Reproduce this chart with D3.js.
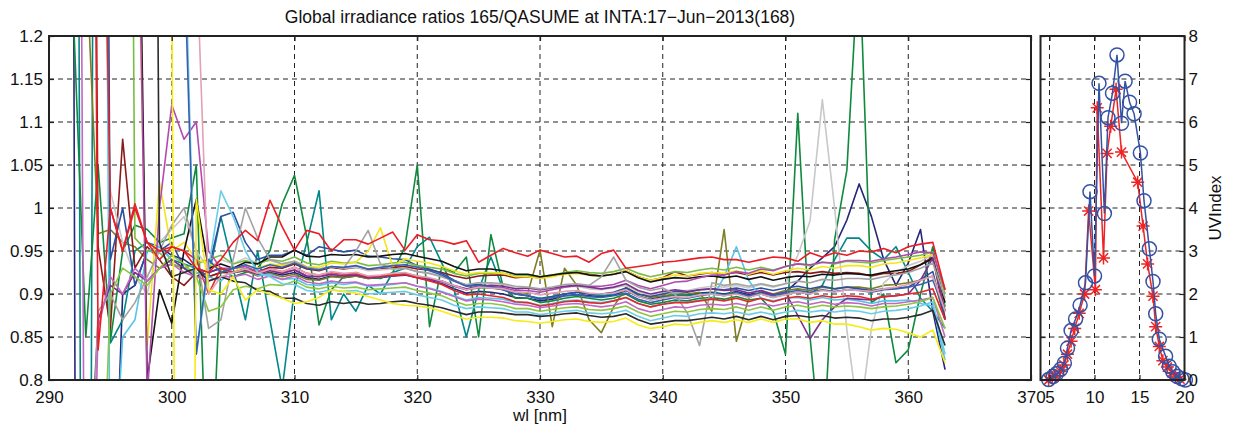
<!DOCTYPE html>
<html>
<head>
<meta charset="utf-8">
<script src="https://cdn.jsdelivr.net/npm/d3@7"></script>
<style>
  body { margin: 0; background: #fff; }
  text { font-family: "Liberation Sans", Arial, sans-serif; fill: #111; }
</style>
</head>
<body>
<div id="chart"></div>
<script>
// wavelength grid (nm)
var wl = [292,293,294,295,296,297,298,299,300,301,302,303,304,
  305,306,307,308,309,310,311,312,313,314,315,316,317,318,319,
  320,321,322,323,324,325,326,327,328,329,330,331,332,333,334,
  335,336,337,338,339,340,341,342,343,344,345,346,347,348,349,
  350,351,352,353,354,355,356,357,358,359,360,361,362,363];

// ratio series, one per instrument scan
var redA = [3,3,.835,1.0,.95,1.0,.96,.95,.955,.95,.93,.925,.94,
  .96,.974,.962,1.009,.978, .951,.974,.97,.95,.963, .963,.958,.965,.972,.951,
  .969,.963,.962,.958,.962, .937,.945,.953,.948,.944, .951,.947,.943,.944,.937,
  .947,.951,.93,.932,.934, .937,.938,.94,.942,.943, .94,.94,.937,.94,.943,
  .942,.938,.948,.943,.948, .945,.95,.949,.953,.948, .955,.958,.96,.905];
var lgA = [3,3,3,3,3,.965,.95,.948,.935,.93,.935,.94,.945,
  .935,.939,.935,.94,.938, .943,.936,.934,.938,.936, .937,.933,.934,.936,.937,
  .933,.931,.929,.924,.921, .924,.924,.924,.921,.922, .92,.922,.925,.927,.925,
  .924,.926,.93,.924,.92, .923,.926,.925,.928,.93, .928,.931,.928,.931,.928,
  .932,.935,.933,.937,.935, .938,.937,.936,.939,.941, .943,.945,.949,.9];
var blkA = [3,3,3,3,3,1.7,.8,.905,.866,.95,1.01,.93,.935,
  .93,.937,.935,.943,.943, .951,.944,.943,.946,.945, .946,.943,.944,.946,.947,
  .944,.941,.938,.932,.927, .929,.929,.927,.923,.923, .92,.922,.924,.925,.922,
  .921,.923,.926,.919,.914, .917,.919,.918,.92,.921, .919,.921,.917,.92,.916,
  .919,.921,.92,.923,.922, .924,.923,.922,.925,.927, .929,.934,.941,.89];
var maroon = [3,3,.955,.86,1.08,.93,.955,.94,.92,.91,.925,.92,.925,
  .925,.929,.926,.931,.93, .935,.929,.927,.931,.929, .931,.928,.929,.931,.932,
  .929,.928,.925,.921,.918, .921,.922,.922,.919,.92, .919,.921,.924,.925,.923,
  .921,.923,.927,.92,.916, .919,.926,.921,.923,.925, .923,.925,.922,.925,.922,
  .925,.926,.924,.926,.924, .925,.924,.921,.924,.924, .926,.934,.943,.872];
var yelA = [3,3,3,3,3,1.5,.84,1.03,.95,.96,.94,.935,.93,
  .925,.934,.93,.935,.933, .938,.932,.931,.936,.935, .937,.95,.977,.932,.941,
  .938,.936,.932,.927,.923, .925,.925,.924,.92,.92, .918,.92,.923,.924,.922,
  .921,.923,.927,.92,.916, .919,.922,.921,.924,.925, .924,.927,.923,.927,.923,
  .927,.93,.928,.932,.93, .933,.933,.931,.935,.936, .939,.942,.946,.88];
var yelB = [3,3,3,3,3,3,3,3,1.25,-1,1.01,.905,.9,
  .92,.893,.905,.9,.895, .889,.891,.896,.905,.903, .901,.897,.893,.889,.887,
  .886,.884,.88,.875,.871, .873,.873,.872,.869,.868, .866,.868,.87,.871,.868,
  .867,.868,.872,.864,.86, .862,.865,.864,.867,.869, .867,.87,.867,.871,.867,
  .871,.871,.867,.869,.865, .865,.862,.858,.86,.859, .855,.85,.858,.82];
var grA = [3,3,1.6,1.02,.96,.92,.9,.96,.975,.99,.95,.93,.94,
  .935,.942,.936,.939,.935, .938,.931,.929,.932,.93, .931,.927,.928,.929,.93,
  .926,.924,.92,.915,.91, .913,.912,.911,.907,.907, .904,.906,.908,.909,.906,
  .905,.907,.91,.903,.898, .901,.904,.904,.907,.909, .908,.91,.907,.911,.908,
  .912,.945,.985,1.126,1.0, .858,.75,.86,.913,.925, .933,.938,.946,.9];
var grB = [-1,.5,.88,.9,.87,.89,.92,.95,.98,1.0,.95,.86,.87,
  .94,1.0,.965,.94,.935, .938,.931,.929,.932,.93, .95,.974,.935,.929,.93,
  .926,.924,.92,.915,.911, .913,.913,.912,.909,.908, .906,.908,.911,.912,.91,
  .92,.943,.916,.908,.904, .907,.9,.878,.84,.913, .91,.912,.909,.912,.909,
  .912,.915,.913,.917,.916, .918,.918,.917,.92,.922, .925,.93,.936,.895];
var pur = [-1,.6,.87,.91,.9,.925,.915,.93,.94,.93,.92,.925,.93,
  .925,.928,.923,.927,.924, .928,.921,.92,.923,.921, .922,.919,.92,.921,.923,
  .919,.917,.915,.91,.906, .909,.91,.909,.906,.907, .905,.907,.909,.91,.908,
  .906,.908,.912,.904,.9, .903,.905,.903,.905,.906, .904,.905,.901,.904,.899,
  .902,.875,.848,.87,.885, .895,.894,.893,.897,.898, .9,.916,.942,.88];
var bluA = [3,3,3,.94,1.0,.91,.95,.95,.96,.93,.92,.93,.99,
  .995,.96,.94,.945,.945, .951,.945,.955,.952,.949, .951,.944,.943,.941,.94,
  .933,.929,.924,.916,.91, .911,.909,.906,.9,.898, .894,.897,.9,.902,.9,
  .9,.902,.907,.9,.897, .9,.903,.902,.905,.906, .905,.907,.904,.907,.904,
  .907,.909,.906,.909,.906, .908,.906,.904,.906,.907, .908,.917,.926,.87];
var bluB = [3,3,3,3,3,3,3,3,3,1.3,.83,.94,.925,
  .93,.934,.929,.934,.931, .936,.93,.928,.932,.931, .933,.929,.931,.933,.934,
  .931,.927,.922,.915,.909, .91,.908,.905,.9,.898, .894,.896,.898,.899,.897,
  .896,.898,.901,.894,.89, .893,.896,.895,.898,.9, .898,.901,.898,.901,.898,
  .902,.904,.902,.905,.903, .905,.904,.902,.905,.906, .908,.911,.916,.88];
var navy = [1.3,-3,-1,.5,.9,.91,.95,.955,.945,.94,.93,.925,.93,
  .925,.927,.922,.925,.922, .925,.919,.917,.921,.919, .921,.918,.919,.921,.922,
  .919,.916,.912,.906,.901, .903,.902,.9,.896,.895, .892,.894,.898,.899,.898,
  .897,.899,.904,.897,.894, .897,.899,.899,.901,.902, .9,.903,.899,.902,.899,
  .902,.915,.93,.942,.955, .986,1.028,.99,.94,.91, .936,.975,.88,.812];
var magA = [3,3,3,3,3,1.6,.78,1.0,1.12,1.08,1.1,.95,.93,
  .93,.932,.926,.929,.925, .928,.921,.92,.923,.921, .923,.919,.92,.921,.923,
  .919,.917,.914,.909,.905, .908,.908,.907,.904,.904, .902,.905,.908,.91,.909,
  .909,.911,.916,.91,.906, .91,.914,.915,.919,.922, .922,.926,.924,.929,.927,
  .932,.935,.934,.937,.936, .939,.939,.938,.941,.943, .946,.949,.948,.905];
var magB = [3,.3,.86,.92,.9,.93,.915,.93,.935,.925,.92,.915,.92,
  .92,.923,.917,.921,.917, .921,.914,.912,.915,.913, .914,.91,.911,.912,.913,
  .909,.906,.902,.897,.892, .894,.893,.891,.888,.887, .884,.886,.888,.889,.887,
  .885,.887,.891,.883,.879, .882,.885,.884,.887,.888, .887,.889,.886,.889,.886,
  .889,.891,.888,.891,.888, .89,.889,.886,.889,.889, .891,.893,.896,.85];
var lbA = [3,3,3,.6,.85,.87,.95,.955,.94,.93,.925,.92,.915,
  .93,.93,.922,.923,.917, .918,.911,.91,.913,.911, .913,.909,.91,.911,.913,
  .909,.907,.903,.898,.893, .896,.895,.894,.89,.89, .887,.889,.892,.893,.891,
  .89,.892,.896,.889,.885, .888,.891,.89,.893,.894, .92,.955,.916,.895,.892,
  .895,.896,.893,.896,.893, .894,.892,.889,.892,.892, .893,.889,.886,.823];
var lbB = [3,3,3,3,3,3,3,3,3,1.35,.83,.93,1.02,
  .99,.95,.925,.92,.912, .911,.904,.902,.905,.903, .904,.9,.901,.902,.903,
  .899,.896,.893,.887,.883, .885,.884,.883,.879,.879, .876,.878,.88,.881,.878,
  .877,.878,.881,.874,.869, .872,.875,.874,.877,.878, .877,.879,.876,.879,.876,
  .879,.881,.879,.881,.879, .881,.88,.877,.88,.881, .883,.886,.891,.83];
var lgB = [-1,-1,.5,.9,.93,.92,.91,.93,.945,.935,.92,.88,.885,
  .905,.909,.906,.911,.91, .915,.908,.906,.909,.907, .908,.905,.906,.907,.908,
  .904,.901,.898,.892,.887, .889,.889,.887,.883,.883, .88,.882,.884,.885,.882,
  .881,.883,.886,.879,.874, .877,.88,.879,.882,.883, .882,.885,.881,.885,.881,
  .885,.887,.884,.887,.885, .886,.885,.883,.885,.886, .888,.891,.896,.86];
var redB = [3,3,1.8,1.0,.95,1.005,.96,.94,.955,.95,.94,.9,.93,
  .925,.929,.924,.929,.926, .931,.924,.922,.925,.923, .924,.92,.921,.922,.923,
  .919,.915,.911,.904,.899, .9,.898,.896,.891,.89, .886,.888,.891,.892,.89,
  .889,.892,.896,.889,.885, .888,.89,.89,.892,.894, .892,.895,.891,.895,.891,
  .895,.897,.895,.898,.896, .898,.897,.894,.897,.898, .9,.902,.906,.87];
var blkB = [3,3,3,3,3,3,3,.96,.92,.925,.93,.915,.92,
  .915,.913,.904,.903,.895, .895,.889,.887,.891,.889, .891,.888,.889,.891,.892,
  .889,.887,.884,.88,.876, .879,.879,.878,.876,.876, .874,.875,.877,.878,.875,
  .873,.874,.877,.87,.865, .867,.869,.869,.871,.873, .871,.874,.87,.874,.87,
  .874,.875,.873,.875,.872, .873,.872,.869,.871,.871, .873,.876,.881,.84];
var grnB = [1.22,.85,1.05,.845,.95,.98,.975,.96,.965,.97,1.05,.6,.93,
  .92,.925,.93,.95,1.005, 1.038,.966,.864,.905,.92, .925,.92,.918,.925,.955,
  1.05,.862,.932,.925,.943, .85,.969,.908,.895,.895, .89,.892,.895,.897,.895,
  .893,.895,.9,.892,.888, .89,.893,.892,.895,.896, .894,.897,.893,.895,.88,
  .83,1.11,.85,.7,.963, 1.044,1.3,.89,.9,.82, .835,.9,.955,.885];
var teal = [3,-1,3,.843,.87,.95,.96,.955,.94,.935,.93,.92,.99,
  .93,.87,.95,.87,.79, .905,.96,1.02,.87,.9, .88,.91,.9,.925,.93,
  .955,.966,.936,.905,.85, .905,.943,.905,.9,.898, .895,.897,.9,.902,.9,
  .898,.9,.905,.898,.893, .896,.899,.898,.9,.901, .899,.902,.897,.9,.896,
  .9,.902,.9,.91,.94, .965,.965,.95,.94,.955, .925,.895,.88,.86];
var olive = [3,1.3,.97,.975,.96,.955,.94,.93,.935,.93,.925,.92,.925,
  .925,.927,.921,.924,.92, .923,.917,.916,.92,.919, .921,.918,.92,.922,.924,
  .921,.918,.915,.909,.905, .907,.907,.905,.902,.901, .951,.862,.93,.91,.87,
  .855,.885,.908,.9,.896, .898,.9,.9,.902,.88, .975,.845,.895,.904,.9,
  .904,.906,.904,.908,.906, .908,.908,.906,.91,.911, .913,.916,.921,.87];
var pink = [3,3,3,3,3,3,3,3,3,3,1.3,.9,.92,
  .925,.929,.924,.929,.926, .931,.924,.922,.926,.924, .925,.921,.922,.924,.925,
  .921,.919,.915,.91,.905, .908,.907,.906,.902,.902, .899,.901,.903,.904,.901,
  .9,.901,.905,.897,.893, .895,.897,.896,.899,.9, .898,.9,.896,.9,.896,
  .899,.902,.9,.904,.902, .905,.904,.903,.906,.908, .911,.916,.921,.88];

// UV index panel (local hour vs UVI)
var hourCirc = [4.9,5.4,5.8,6.25,6.65,7.0,7.4,7.9,8.4,9.0,9.5,10.0,10.5,11.1,11.5,12.0,12.5,
  13.0,13.4,13.9,14.4,15.1,15.5,16.1,16.5,16.8,17.2,17.9,18.3,18.7,19.2,19.7,20.1];
var uviCirc = [0.01,0.08,0.15,0.25,0.39,0.74,1.15,1.42,1.74,2.26,4.38,2.42,6.9,3.87,6.1,6.67,7.56,
  5.97,6.95,6.46,6.19,5.28,4.17,3.05,2.29,1.54,0.95,0.55,0.32,0.19,0.08,0.03,0.0];
var hourStar = [4.9,5.3,5.7,6.2,6.6,7.0,7.4,7.8,8.3,8.9,9.35,10.1,10.3,11.0,11.4,11.8,12.4,
  13.0,14.8,15.4,15.9,16.5,16.8,17.2,17.6,18.1,18.6,19.0,19.5];
var uviStar = [0.0,0.05,0.1,0.2,0.35,0.6,0.9,1.2,1.55,2.0,3.93,2.1,6.33,2.84,5.27,5.9,6.76,
  5.3,4.6,3.58,2.7,1.95,1.24,0.78,0.45,0.3,0.17,0.07,0.02];

var xTicksMain = [290,300,310,320,330,340,350,360,370];
var yTicksMain = [0.8,0.85,0.9,0.95,1,1.05,1.1,1.15,1.2];
var xTicksUv = [5,10,15,20];
var yTicksUv = [0,1,2,3,4,5,6,7,8];

var series = [
  {v: navy, c: "#25257a"}, {v: teal, c: "#00878a"}, {v: grnB, c: "#0f8a3c"},
  {v: olive, c: "#7d7d22"}, {v: maroon, c: "#8b1a1a"}, {v: grA, c: "#c8c8c8"},
  {v: bluA, c: "#2e4fa0"}, {v: lbA, c: "#56c5e8"}, {v: lgA, c: "#77bc43"},
  {v: yelA, c: "#f2e51c"}, {v: blkA, c: "#111111"}, {v: magA, c: "#b04ab0"},
  {v: pur, c: "#7b2f8e"}, {v: grB, c: "#a3a3a3"}, {v: redB, c: "#e4262b"},
  {v: magB, c: "#c167c1"}, {v: lgB, c: "#8dc63f"}, {v: lbB, c: "#6ccde8"},
  {v: blkB, c: "#2b2b2b"}, {v: bluB, c: "#3a5fb0"}, {v: pink, c: "#e3a1b5"},
  {v: yelB, c: "#f7ec13"}, {v: redA, c: "#ed1c24"}
];

var W = 1237, H = 434;
var FS = "17.5px", TS = "17px";
var svg = d3.select("#chart").append("svg")
  .attr("width", W)
  .attr("height", H);

var m = {left: 49, right: 1031, top: 36, bottom: 380};
var u = {left: 1040.5, right: 1184.5};

var x = d3.scaleLinear().domain([290, 370]).range([m.left, m.right]);
var y = d3.scaleLinear().domain([0.8, 1.2]).range([m.bottom, m.top]);
var xu = d3.scaleLinear().domain([4, 20]).range([u.left, u.right]);
var yu = d3.scaleLinear().domain([0, 8]).range([m.bottom, m.top]);

svg.append("text")
  .attr("x", (m.left + m.right) / 2)
  .attr("y", 23)
  .attr("text-anchor", "middle")
  .style("font-size", FS)
  .text("Global irradiance ratios 165/QASUME at INTA:17\u2212Jun\u22122013(168)");

function grid(g, xs, ys, xTicks, yTicks, x0, x1) {
  g.selectAll(".gv").data(xTicks.slice(1, -1)).enter().append("line")
    .attr("x1", d => xs(d)).attr("x2", d => xs(d))
    .attr("y1", m.top).attr("y2", m.bottom);
  g.selectAll(".gh").data(yTicks.slice(1, -1)).enter().append("line")
    .attr("x1", x0).attr("x2", x1)
    .attr("y1", d => ys(d)).attr("y2", d => ys(d));
  g.selectAll("line")
    .attr("stroke", "#222")
    .attr("stroke-width", 1)
    .attr("stroke-dasharray", "5,4");
}

grid(svg.append("g"), x, y, xTicksMain, yTicksMain, m.left, m.right);
grid(svg.append("g"), xu, yu, [4].concat(xTicksUv), yTicksUv, u.left, u.right);

// main ratio lines
svg.append("clipPath").attr("id", "clipMain")
  .append("rect")
  .attr("x", m.left).attr("y", m.top)
  .attr("width", m.right - m.left).attr("height", m.bottom - m.top);

var line = d3.line()
  .x(function(d, i) { return x(wl[i]); })
  .y(function(d) { return y(d); });

svg.append("g").attr("clip-path", "url(#clipMain)")
  .selectAll("path")
  .data(series)
  .enter()
  .append("path")
  .attr("d", function(s) { return line(s.v); })
  .attr("fill", "none")
  .attr("stroke", function(s) { return s.c; })
  .attr("stroke-width", 1.6)
  .attr("stroke-linejoin", "round");

// UV panel
var red = "#ee2424", blue = "#3452a4";
var uvStar = d3.range(hourStar.length).map(i => [hourStar[i], uviStar[i]]);
var uvCirc = d3.range(hourCirc.length).map(i => [hourCirc[i], uviCirc[i]]);
var uvLine = d3.line().x(d => xu(d[0])).y(d => yu(d[1]));

svg.append("path").attr("d", uvLine(uvStar))
  .attr("fill", "none").attr("stroke", red).attr("stroke-width", 1.5);
var r = 6.5, k = r * 0.7071;
svg.append("g").selectAll("path").data(uvStar).enter().append("path")
  .attr("transform", d => `translate(${xu(d[0])},${yu(d[1])})`)
  .attr("d", `M${-r},0L${r},0M0,${-r}L0,${r}M${-k},${-k}L${k},${k}M${-k},${k}L${k},${-k}`)
  .attr("stroke", red).attr("stroke-width", 1.5);

svg.append("path").attr("d", uvLine(uvCirc))
  .attr("fill", "none").attr("stroke", blue).attr("stroke-width", 1.5);
svg.append("g").selectAll("circle").data(uvCirc).enter().append("circle")
  .attr("cx", d => xu(d[0])).attr("cy", d => yu(d[1]))
  .attr("r", 7)
  .attr("fill", "none").attr("stroke", blue).attr("stroke-width", 1.5);

// axes, ticks pointing inward
function axes(xs, ys, xTicks, yTicks, x0, x1, fmtY, yOnRight) {
  var g = svg.append("g");
  var fx = d3.format("d");
  g.append("g").attr("transform", `translate(0,${m.bottom})`)
    .call(d3.axisBottom(xs).tickValues(xTicks).tickSize(-5).tickPadding(11).tickFormat(fx));
  g.append("g").attr("transform", `translate(0,${m.top})`)
    .call(d3.axisTop(xs).tickValues(xTicks).tickSize(-5).tickFormat(""));
  g.append("g").attr("transform", `translate(${x0},0)`)
    .call(d3.axisLeft(ys).tickValues(yTicks).tickSize(-5).tickPadding(6)
      .tickFormat(yOnRight ? "" : fmtY));
  g.append("g").attr("transform", `translate(${x1},0)`)
    .call(d3.axisRight(ys).tickValues(yTicks).tickSize(-5).tickPadding(4)
      .tickFormat(yOnRight ? fmtY : ""));
  g.selectAll(".domain").remove();
  g.selectAll(".tick line").attr("stroke", "#222").attr("stroke-width", 1.2);
  g.selectAll(".tick text")
    .attr("fill", "#222")
    .style("font-size", TS)
    .style("font-family", "'Liberation Sans', Arial, sans-serif");
  g.append("rect")
    .attr("x", x0).attr("y", m.top)
    .attr("width", x1 - x0).attr("height", m.bottom - m.top)
    .attr("fill", "none").attr("stroke", "#222").attr("stroke-width", 2);
}

axes(x, y, xTicksMain, yTicksMain, m.left, m.right, d3.format("~g"), false);
axes(xu, yu, xTicksUv, yTicksUv, u.left, u.right, d3.format("d"), true);

svg.append("text")
  .attr("x", (m.left + m.right) / 2)
  .attr("y", 421)
  .attr("text-anchor", "middle")
  .style("font-size", TS)
  .text("wl [nm]");

svg.append("text")
  .attr("transform", "translate(1221,208) rotate(-90)")
  .attr("text-anchor", "middle")
  .style("font-size", TS)
  .text("UVIndex");
</script>
</body>
</html>
